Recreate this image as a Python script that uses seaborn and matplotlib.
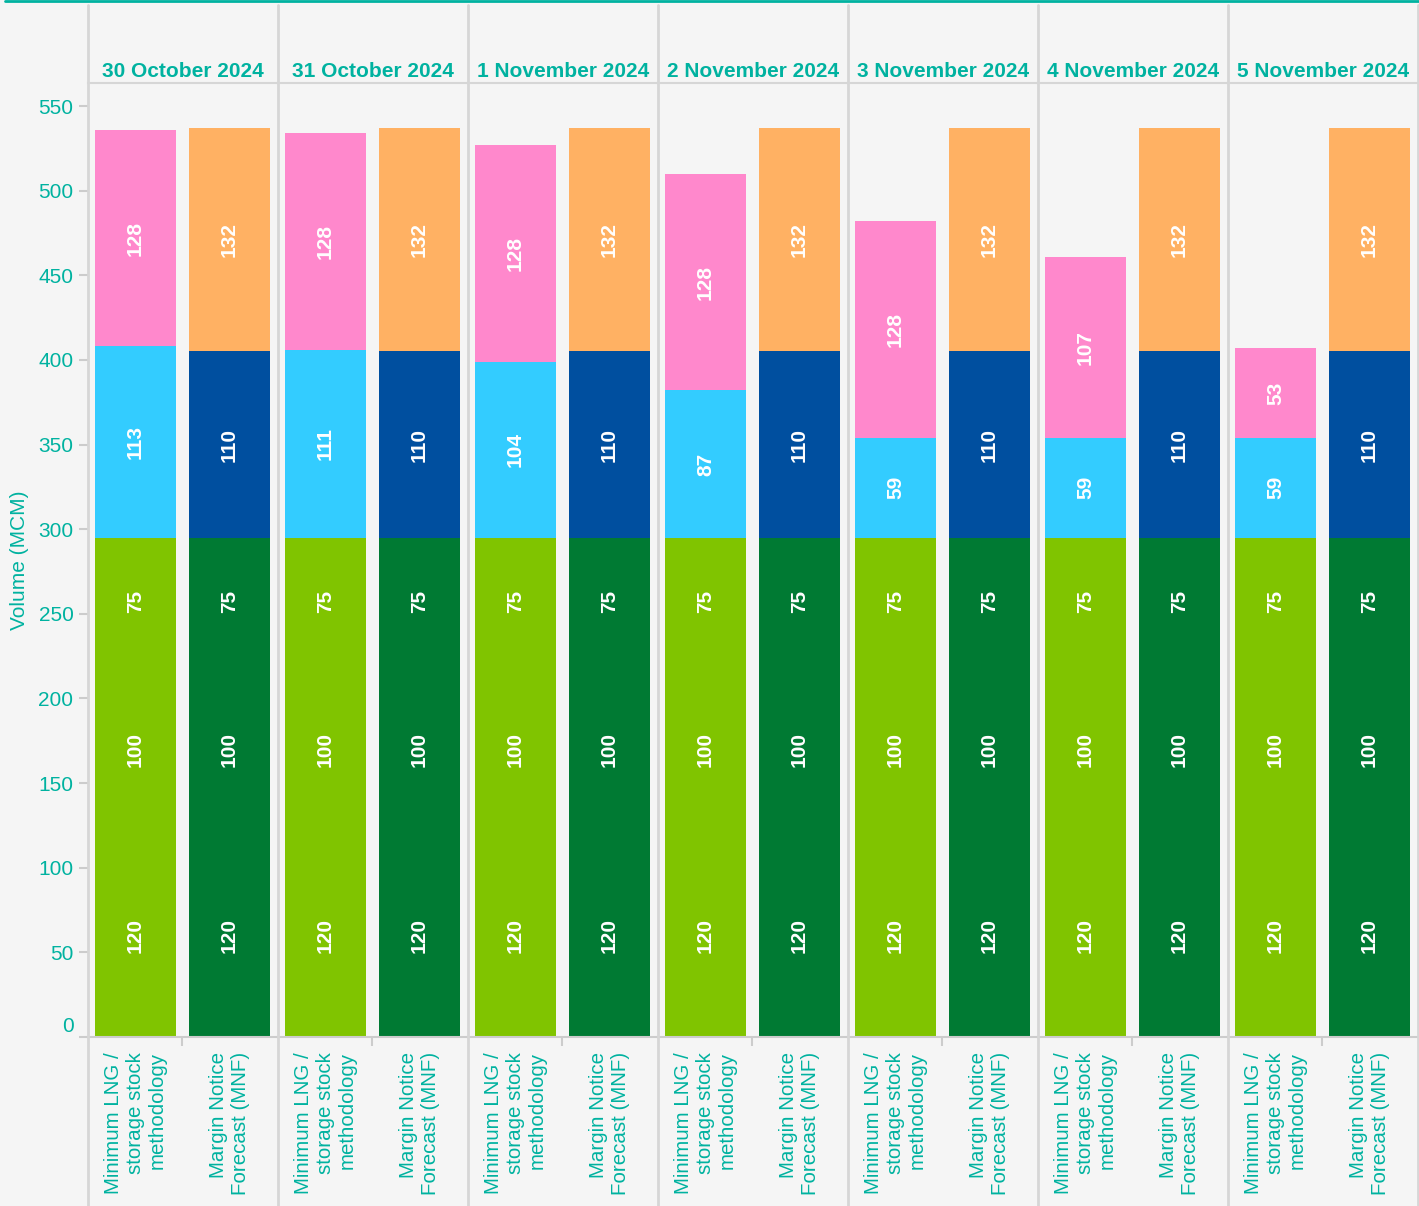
import pandas as pd
import matplotlib.pyplot as plt
import matplotlib.transforms as mtransforms
from matplotlib.lines import Line2D
import seaborn as sns

# ---- data ----
dates = ['30 October 2024', '31 October 2024', '1 November 2024', '2 November 2024',
         '3 November 2024', '4 November 2024', '5 November 2024']
methods = ['Minimum LNG /\nstorage stock\nmethodology', 'Margin Notice\nForecast (MNF)']

# stacked segments, bottom -> top
min_seg1 = [120, 120, 120, 120, 120, 120, 120]
min_seg2 = [100, 100, 100, 100, 100, 100, 100]
min_seg3 = [75, 75, 75, 75, 75, 75, 75]
min_blue = [113, 111, 104, 87, 59, 59, 59]
min_pink = [128, 128, 128, 128, 128, 107, 53]

mnf_seg1 = [120, 120, 120, 120, 120, 120, 120]
mnf_seg2 = [100, 100, 100, 100, 100, 100, 100]
mnf_seg3 = [75, 75, 75, 75, 75, 75, 75]
mnf_blue = [110, 110, 110, 110, 110, 110, 110]
mnf_orange = [132, 132, 132, 132, 132, 132, 132]

yticks = list(range(0, 551, 50))

# ---- styling ----
TEAL = '#00B2A0'
BG = '#F5F5F5'
GRID = '#D6D6D6'
LIGHT_GREEN, DARK_GREEN = '#80C400', '#007A33'
LIGHT_BLUE, DARK_BLUE = '#33CCFF', '#004F9F'
PINK, ORANGE = '#FF88CC', '#FFB163'

min_layers = [min_seg1, min_seg2, min_seg3, min_blue, min_pink]
mnf_layers = [mnf_seg1, mnf_seg2, mnf_seg3, mnf_blue, mnf_orange]
min_colors = [LIGHT_GREEN, LIGHT_GREEN, LIGHT_GREEN, LIGHT_BLUE, PINK]
mnf_colors = [DARK_GREEN, DARK_GREEN, DARK_GREEN, DARK_BLUE, ORANGE]

sns.set_theme(style='white', rc={'axes.facecolor': BG, 'figure.facecolor': BG})
plt.rcParams['font.family'] = ['Liberation Sans', 'DejaVu Sans']

W, H = 1419, 1206
fig = plt.figure(figsize=(W / 100, H / 100), dpi=100)
axes = fig.subplots(1, len(dates), sharey=True)
fig.subplots_adjust(left=88 / W, right=1418 / W, bottom=1 - 1037 / H, top=1 - 83 / H, wspace=0)

for i, (ax, day) in enumerate(zip(axes, dates)):
    # overlay cumulative bars from the top layer down -> stacked look
    for k in range(len(min_layers) - 1, -1, -1):
        cum_min = sum(layer[i] for layer in min_layers[:k + 1])
        cum_mnf = sum(layer[i] for layer in mnf_layers[:k + 1])
        df = pd.DataFrame({'method': methods, 'cum': [cum_min, cum_mnf]})
        sns.barplot(data=df, x='method', y='cum', hue='method', order=methods, hue_order=methods,
                    palette={methods[0]: min_colors[k], methods[1]: mnf_colors[k]},
                    width=0.862, saturation=1, errorbar=None, legend=False, linewidth=0, ax=ax)
        for j, (layers, cum) in enumerate([(min_layers, cum_min), (mnf_layers, cum_mnf)]):
            val = layers[k][i]
            ax.text(j, cum - val / 2, str(val), rotation=90, ha='center', va='center',
                    color='white', fontsize=15, fontweight='bold', zorder=5)

    ax.set_xlim(-0.505, 1.516)
    ax.set_ylim(0, 563.6)
    ax.set_xlabel('')
    ax.set_ylabel('')
    ax.set_title(day, color=TEAL, fontsize=15, fontweight='bold', pad=4)

    for side in ['left', 'right']:
        ax.spines[side].set_visible(False)
    ax.spines['top'].set_color(GRID)
    ax.spines['top'].set_linewidth(1.5)
    ax.spines['bottom'].set_color('#CCCCCC')
    ax.spines['bottom'].set_linewidth(1.5)

    ax.set_xticks([0, 1])
    ax.set_xticklabels(methods)
    ax.set_xticks([0.5], minor=True)
    ax.tick_params(axis='x', which='major', length=0, pad=11, labelsize=14.8, labelcolor=TEAL)
    ax.tick_params(axis='x', which='minor', bottom=True, length=6.5, width=1.5, color='#CCCCCC')
    for lab in ax.get_xticklabels():
        lab.set_rotation(90)
        lab.set_ha('center')
        lab.set_va('top')
        lab.set_multialignment('right')
        lab.set_linespacing(1.2)
    if i > 0:
        ax.tick_params(axis='y', left=False)

ax0 = axes[0]
ax0.set_yticks(yticks)
ax0.tick_params(axis='y', left=True, length=6.5, width=1.5, color='#CCCCCC',
                labelsize=15, labelcolor=TEAL, pad=4)
ax0.set_ylabel('Volume (MCM)', color=TEAL, fontsize=15)
ax0.yaxis.set_label_coords(-0.31, 0.5)
zero_lab = ax0.get_yticklabels()[0]
zero_lab.set_transform(zero_lab.get_transform() +
                       mtransforms.ScaledTranslation(0, 13 / 100, fig.dpi_scale_trans))

# facet separators running through header and label band
edges = [ax.get_position().x0 for ax in axes] + [axes[-1].get_position().x1]
for x in edges:
    fig.add_artist(Line2D([x, x], [0, 1 - 5 / H], transform=fig.transFigure, color=GRID, lw=2))
fig.add_artist(Line2D([5 / W, 1], [1 - 1 / H, 1 - 1 / H], transform=fig.transFigure, color=TEAL, lw=2))

fig.savefig('out.png', dpi=100, facecolor=BG)
